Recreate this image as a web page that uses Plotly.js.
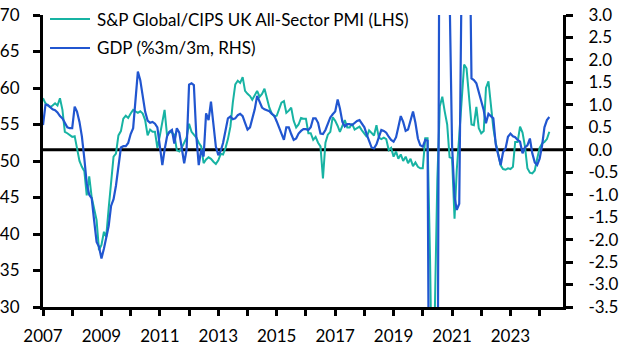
<!DOCTYPE html>
<html><head><meta charset="utf-8">
<script src="https://cdn.plot.ly/plotly-3.0.1.min.js"></script>
<style>html,body{margin:0;padding:0;background:#fff;}#chart{width:627px;height:352px;}</style>
</head><body><div id="chart"></div>
<script>
// Monthly observations, first point = Jan 2007
const startYear = 2007;
const pmiName = 'S&P Global/CIPS UK All-Sector PMI (LHS)';
const gdpName = 'GDP (%3m/3m, RHS)';

const pmi = [
  58.6, 57.9, 57.6, 57.4, 57.6, 57.9, 57.6, 58.6, 57.0, 54.0, 53.8, 53.5,
  53.3, 53.4, 51.8, 50.0, 49.2, 48.6, 45.3, 47.9, 45.0, 43.5, 41.9, 37.8,
  38.5, 40.3, 39.6, 43.5, 47.5, 50.6, 51.0, 53.5, 54.1, 55.8, 56.2, 55.9,
  56.5, 57.0, 56.8, 56.6, 56.8, 56.5, 55.6, 53.5, 54.3, 54.0, 54.0, 51.8,
  53.5, 55.4, 57.0, 53.5, 54.0, 53.9, 53.6, 51.5, 51.3, 51.8, 52.5, 53.2,
  55.1, 54.0, 53.6, 53.2, 52.5, 52.0, 49.7, 50.2, 50.5, 50.3, 49.9, 49.6,
  50.1, 51.0, 50.9, 51.8, 53.0, 54.7, 58.0, 60.5, 61.0, 60.7, 61.5, 59.6,
  59.2, 58.9, 58.4, 59.0, 59.6, 58.8, 59.2, 59.9, 58.5, 57.3, 56.5, 56.1,
  56.2, 57.3, 58.0, 58.2, 56.6, 56.9, 57.3, 55.5, 54.6, 55.0, 55.9, 55.8,
  55.8, 53.8, 53.8, 52.9, 53.3, 52.5, 52.0, 47.6, 52.5, 53.6, 54.0, 56.0,
  55.5, 54.8, 54.0, 54.8, 55.6, 54.6, 54.6, 55.1, 54.3, 54.5, 54.7, 54.2,
  53.8, 53.3, 54.2, 53.8, 53.5, 54.9, 53.2, 53.0, 53.2, 53.0, 51.5, 51.8,
  50.6, 51.3, 50.3, 50.9, 50.0, 50.6, 49.7, 50.3, 49.3, 49.8, 49.2, 49.0,
  49.0, 53.1, 53.1, 36.5, 13.8, 30.2, 47.5, 57.5, 58.8, 56.8, 55.0, 50.5,
  50.4, 42.1, 48.8, 53.5, 58.5, 63.2, 62.7, 59.0, 55.0, 54.9, 57.4, 54.5,
  53.8, 54.1, 60.0, 60.9, 57.8, 54.5, 52.5, 50.8, 49.4, 48.9, 48.8, 49.0,
  48.9, 49.2, 52.6, 52.6, 54.7, 53.9, 52.0, 49.0, 48.4, 48.3, 48.7, 50.3,
  51.8, 52.4, 52.6, 53.0, 54.0
];

const gdp = [
  0.55, 1.00, 1.00, 0.95, 0.90, 0.88, 0.83, 0.75, 0.70, 0.60, 0.50, 0.48,
  0.48, 0.96, 0.85, 0.62, 0.30, -0.20, -0.75, -1.00, -1.08, -1.57, -2.05, -2.16,
  -2.42, -2.20, -1.97, -1.70, -1.25, -1.10, -0.80, -0.30, 0.05, 0.08, 0.08, 0.15,
  0.35, 0.48, 1.00, 1.74, 1.55, 1.20, 0.85, 0.65, 0.60, 0.62, 0.58, 0.50,
  0.05, -0.34, 0.00, 0.30, 0.40, 0.44, 0.14, 0.48, 0.38, 0.00, -0.30, 0.00,
  1.45, 1.48, 1.44, 0.30, -0.34, 0.00, -0.15, 0.81, 0.66, 1.07, 0.60, 0.07,
  -0.12, -0.02, 0.15, 0.45, 0.70, 0.74, 0.68, 0.70, 0.77, 0.80, 0.75, 0.60,
  0.45, 0.50, 0.70, 0.90, 1.20, 1.05, 0.94, 0.90, 0.88, 0.86, 0.80, 0.76,
  0.63, 0.50, 0.35, 0.22, 0.50, 0.50, 0.35, 0.22, 0.25, 0.36, 0.42, 0.46,
  0.46, 0.44, 0.50, 0.70, 0.70, 0.60, 0.36, 0.35, 0.44, 0.60, 0.72, 0.79,
  0.85, 1.12, 0.92, 0.62, 0.52, 0.57, 0.57, 0.55, 0.60, 0.64, 0.66, 0.58,
  0.50, 0.33, 0.20, 0.05, 0.03, 0.12, 0.28, 0.44, 0.42, 0.38, 0.29, 0.22,
  0.18, 0.28, 0.50, 0.75, 0.62, 0.42, 0.45, 0.66, 0.85, 0.60, 0.25, 0.10,
  0.07, 0.22, 0.20, -10.4, -19.0, -19.4, -7.8, 8.0, 16.0, 10.5, 4.5, 3.5,
  0.10, -1.05, -1.34, -1.20, 4.0, 4.8, 5.5, 6.0, 1.59, 1.55, 1.48, 1.30,
  1.10, 0.88, 0.59, 0.80, 0.75, 0.70, 0.12, -0.10, -0.34, -0.05, 0.03, 0.29,
  0.36, 0.30, 0.28, 0.22, 0.18, -0.08, 0.05, 0.10, 0.25, -0.08, -0.28, -0.34,
  -0.20, 0.10, 0.50, 0.66, 0.73
];

const xTickYears = [2007, 2008, 2009, 2010, 2011, 2012, 2013, 2014, 2015, 2016, 2017, 2018, 2019, 2020, 2021, 2022, 2023, 2024];
const xTickLabels = ['2007', '', '2009', '', '2011', '', '2013', '', '2015', '', '2017', '', '2019', '', '2021', '', '2023', ''];
const leftTicks = [30, 35, 40, 45, 50, 55, 60, 65, 70];
const rightTicks = [-3.5, -3.0, -2.5, -2.0, -1.5, -1.0, -0.5, 0.0, 0.5, 1.0, 1.5, 2.0, 2.5, 3.0];
const rightTickLabels = ['-3.5', '-3.0', '-2.5', '-2.0', '-1.5', '-1.0', '-0.5', '0.0', '0.5', '1.0', '1.5', '2.0', '2.5', '3.0'];

function monthDates(n) {
  const out = [];
  for (let i = 0; i < n; i++) {
    const y = startYear + Math.floor(i / 12);
    const m = (i % 12) + 1;
    out.push(y + '-' + String(m).padStart(2, '0') + '-01');
  }
  return out;
}

const teal = '#17b3a3';
const blue = '#2156d0';
const fontFamily = 'Lato, "Open Sans", sans-serif';

const traces = [
  {x: monthDates(pmi.length), y: pmi, name: pmiName, type: 'scatter', mode: 'lines',
   line: {color: teal, width: 2}, yaxis: 'y', showlegend: false, hoverinfo: 'skip'},
  {x: monthDates(gdp.length), y: gdp, name: gdpName, type: 'scatter', mode: 'lines',
   line: {color: blue, width: 2.2}, yaxis: 'y2', showlegend: false, hoverinfo: 'skip'}
];

const axisCommon = {
  showline: true, linewidth: 3, linecolor: '#000', ticks: 'outside', tickwidth: 3,
  tickcolor: '#000', showgrid: false, zeroline: false, fixedrange: true
};

const layout = {
  width: 627, height: 352,
  margin: {l: 43, r: 64, t: 15, b: 45, pad: 0},
  paper_bgcolor: '#fff', plot_bgcolor: '#fff',
  showlegend: false,
  font: {family: fontFamily, size: 17, color: '#000'},
  xaxis: Object.assign({}, axisCommon, {
    type: 'date', range: ['2007-01-01', '2024-10-19'],
    tickmode: 'array', tickvals: xTickYears.map(y => y + '-01-01'), ticktext: xTickLabels,
    ticklen: 6, ticklabelstandoff: 6
  }),
  yaxis: Object.assign({}, axisCommon, {
    range: [30, 70], tickmode: 'array', tickvals: leftTicks, ticklen: 7, ticklabelstandoff: 10
  }),
  yaxis2: Object.assign({}, axisCommon, {
    overlaying: 'y', side: 'right', range: [-3.5, 3.0], tickmode: 'array',
    tickvals: rightTicks, ticktext: rightTickLabels, ticklen: 7, ticklabelstandoff: 12
  }),
  shapes: [
    {type: 'line', xref: 'paper', yref: 'y2', x0: 0, x1: 1, y0: 0, y1: 0,
     line: {color: '#000', width: 3}, layer: 'below'},
    {type: 'line', xref: 'paper', yref: 'paper', x0: 0.0135, x1: 0.0904, y0: 0.9863, y1: 0.9863,
     line: {color: teal, width: 2}},
    {type: 'line', xref: 'paper', yref: 'paper', x0: 0.0135, x1: 0.0904, y0: 0.887, y1: 0.887,
     line: {color: blue, width: 2.2}}
  ],
  annotations: [
    {xref: 'paper', yref: 'paper', x: 0.1, y: 0.9863, xanchor: 'left', yanchor: 'middle',
     text: pmiName, showarrow: false, font: {family: fontFamily, size: 17, color: '#000'}},
    {xref: 'paper', yref: 'paper', x: 0.1, y: 0.887, xanchor: 'left', yanchor: 'middle',
     text: gdpName, showarrow: false, font: {family: fontFamily, size: 17, color: '#000'}}
  ]
};

Plotly.newPlot('chart', traces, layout, {staticPlot: true, displayModeBar: false});
</script>
</body></html>
